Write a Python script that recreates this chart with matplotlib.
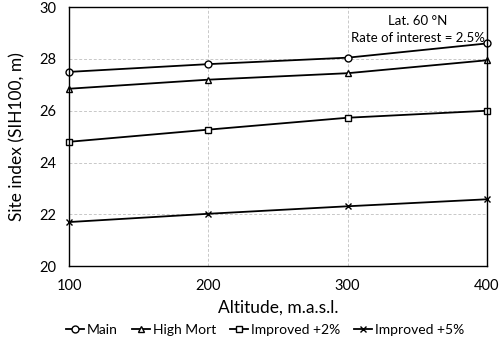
import numpy as np
import matplotlib.pyplot as plt

altitude = [100, 200, 300, 400]
main = [27.5, 27.8, 28.05, 28.6]
high_mort = [26.85, 27.2, 27.45, 27.95]
improved2 = [24.8, 25.27, 25.73, 26.0]
improved5 = [21.7, 22.02, 22.31, 22.58]

plt.rcParams['font.family'] = ['Lato', 'DejaVu Sans']

fig = plt.figure(figsize=(5, 3.42), dpi=100)
ax = fig.add_axes([0.138, 0.222, 0.836, 0.757])

kw = dict(color='black', linewidth=1.3, markersize=5, markerfacecolor='white',
          markeredgewidth=1.0, clip_on=False)
ax.plot(altitude, main, marker='o', label='Main', **kw)
ax.plot(altitude, high_mort, marker='^', label='High Mort', **kw)
ax.plot(altitude, improved2, marker='s', label='Improved +2%', **kw)
ax.plot(altitude, improved5, marker='x', label='Improved +5%', **kw)

ax.set_xlim(100, 400)
ax.set_ylim(20, 30)
ax.set_xticks(altitude)
ax.set_yticks([20, 22, 24, 26, 28, 30])
ax.grid(True, color='#c8c8c8', linestyle=(0, (3, 2)), linewidth=0.7)
ax.set_axisbelow(True)
for s in ax.spines.values():
    s.set_color('black')
    s.set_linewidth(1.0)
ax.tick_params(length=0, labelsize=10.5, pad=9)
ax.set_xlabel('Altitude, m.a.s.l.', fontsize=12.5, labelpad=5)
ax.set_ylabel('Site index (SIH100, m)', fontsize=12.5, labelpad=10)

ax.text(0.835, 0.97, 'Lat. 60 °N\nRate of interest = 2.5%', transform=ax.transAxes,
        ha='center', va='top', fontsize=9.5, linespacing=1.5)

fig.legend(loc='center', bbox_to_anchor=(0.53, 0.035), ncol=4, frameon=False,
           fontsize=10, handlelength=1.3, handletextpad=0.2, columnspacing=1.0)

fig.savefig('out.png', dpi=100)
